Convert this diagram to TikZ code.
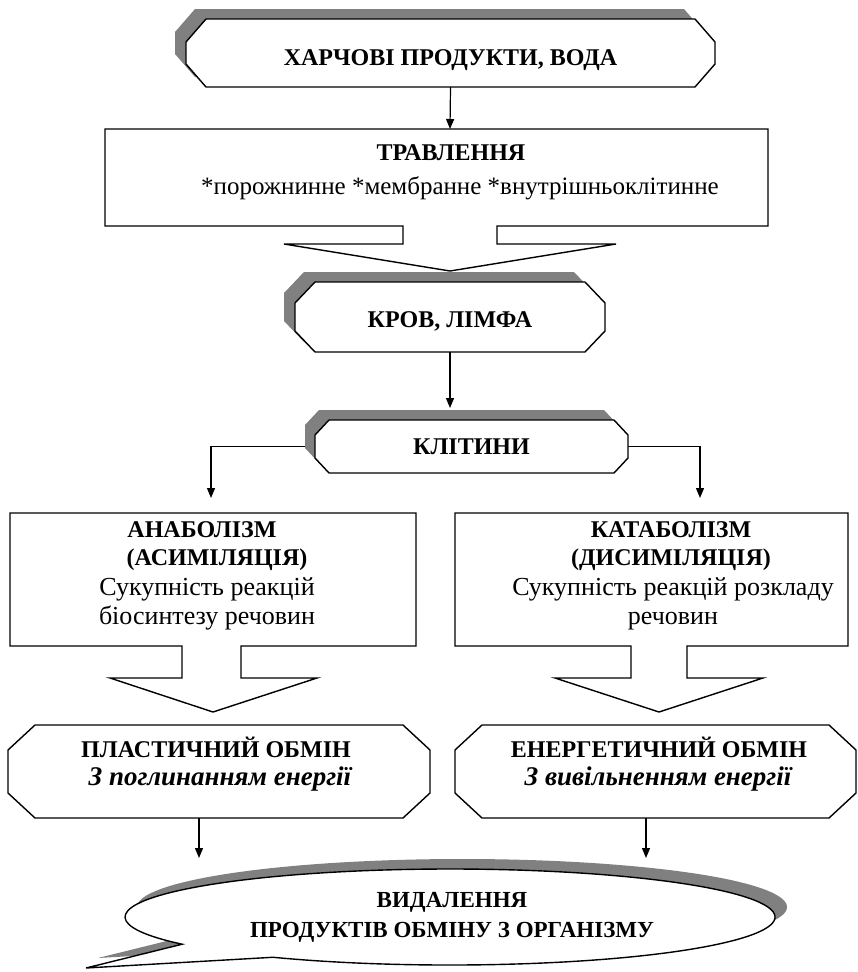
\documentclass[tikz,border=0pt]{standalone}
\usepackage{fontspec}
\setmainfont{Liberation Serif}
\usetikzlibrary{arrows.meta}
\definecolor{shadowgray}{HTML}{808080}

% octagon outline: #1 style, (#2,#3)-(#4,#5) bounding box, #6/#7 chamfer sizes
\newcommand\octpath[7]{%
  \path[#1] ({#2+#6},#3) -- ({#4-#6},#3) -- (#4,{#3+#7}) -- (#4,{#5-#7})
    -- ({#4-#6},#5) -- ({#2+#6},#5) -- (#2,{#5-#7}) -- (#2,{#3+#7}) -- cycle;}

\tikzset{
  outline/.style={draw=black, line width=1.4pt, fill=white, line join=miter},
  shadowfill/.style={fill=shadowgray, draw=none},
  conn/.style={draw=black, line width=1.2pt, -{Triangle[length=10pt,width=8pt]}},
  headlbl/.style={font=\fontsize{24}{28}\selectfont\bfseries, align=center, inner sep=0pt},
  bodylbl/.style={font=\fontsize{26}{29}\selectfont, align=center, inner sep=0pt},
  calloutlbl/.style={font=\fontsize{23}{30}\selectfont\bfseries, align=center, inner sep=0pt},
  italline/.style={font=\fontsize{27}{30}\selectfont\bfseries\itshape, inner sep=0pt},
}

\begin{document}
\begin{tikzpicture}[x=1pt, y=-1pt]
\useasboundingbox (0,0) rectangle (857,972);

% --- food and water
\octpath{shadowfill, shift={(-11,-10)}}{186}{19}{715}{87}{20}{23}
\octpath{outline}{186}{19}{715}{87}{20}{23}
\node[headlbl] (food) at (450.5,60) {ХАРЧОВІ ПРОДУКТИ, ВОДА};
\coordinate (foodBot) at (450,87);

% --- digestion box with block arrow
\path[outline] (105,129) -- (768,129) -- (768,226) -- (497,226) -- (497,244)
  -- (616,244) -- (450,271) -- (284,244) -- (403,244) -- (403,226) -- (105,226) -- cycle;
\node[headlbl] (digest) at (451,153) {ТРАВЛЕННЯ};
\node[font=\fontsize{25}{29}\selectfont, inner sep=0pt] (digestKinds) at (460,188)
  {*порожнинне *мембранне *внутрішньоклітинне};
\coordinate (digestTop) at (450,129);

% --- blood and lymph
\octpath{shadowfill, shift={(-11,-10)}}{295}{282}{605}{352}{20}{21}
\octpath{outline}{295}{282}{605}{352}{20}{21}
\node[headlbl] (blood) at (450,321) {КРОВ, ЛІМФА};
\coordinate (bloodBot) at (450,352);

% --- cells
\coordinate (cellsTop) at (450,408);
\coordinate (anaIn) at (211,498);
\coordinate (cataIn) at (700,498);
\node[minimum width=313pt, minimum height=53pt, inner sep=0pt] (cells) at (471.5,446.5) {};
\draw[conn] (cells.west) -| (anaIn);
\draw[conn] (cells.east) -| (cataIn);
\octpath{shadowfill, shift={(-10,-10)}}{315}{420}{628}{473}{14}{15}
\octpath{outline}{315}{420}{628}{473}{14}{15}
\node[headlbl] (cellsText) at (471.5,447) {КЛІТИНИ};

% --- anabolism
\path[outline] (10,513) -- (416,513) -- (416,646) -- (241,646) -- (241,678)
  -- (317,678) -- (213,712) -- (110,678) -- (182,678) -- (182,646) -- (10,646) -- cycle;
\node[headlbl] (anaHead) at (213,546)
  {АНАБОЛІЗМ\hspace*{22pt}\\\hspace*{8pt}(АСИМІЛЯЦІЯ)};
\node[bodylbl] (ana) at (207,604) {Сукупність реакцій\\біосинтезу речовин};

% --- catabolism
\path[outline] (455,513) -- (848,513) -- (848,646) -- (687,646) -- (687,678)
  -- (763,678) -- (659,712) -- (555,678) -- (631,678) -- (631,646) -- (455,646) -- cycle;
\node[headlbl] (cataHead) at (671,546) {КАТАБОЛІЗМ\\(ДИСИМІЛЯЦІЯ)};
\node[bodylbl] (cata) at (673,604) {Сукупність реакцій розкладу\\речовин};

% --- plastic and energy exchange
\octpath{outline}{8}{725}{430}{818}{27}{25}
\node[headlbl] (plast) at (216,747) {ПЛАСТИЧНИЙ ОБМІН};
\node[italline] (plastNote) at (220,779) {З поглинанням енергії};

\octpath{outline}{455}{725}{856}{818}{27}{25}
\node[headlbl] (energy) at (659,747) {ЕНЕРГЕТИЧНИЙ ОБМІН};
\node[italline] (energyNote) at (658,779) {З вивільненням енергії};
\coordinate (plastBot) at (199,818);
\coordinate (energyBot) at (646,818);

% --- removal callout
\path[shadowfill, shift={(12,-10)}] (273,957.26)
  arc[start angle=123, end angle=-214.5, x radius=325, y radius=48] -- (86,968) -- cycle;
\path[outline] (273,957.26)
  arc[start angle=123, end angle=-214.5, x radius=325, y radius=48] -- (86,968) -- cycle;
\node[calloutlbl] (removal) at (452,917) {ВИДАЛЕННЯ\\ПРОДУКТІВ ОБМІНУ З ОРГАНІЗМУ};
\coordinate (exitL) at (199,858);
\coordinate (exitR) at (646,858);

% --- connectors
\draw[conn] (food.south |- foodBot) -- (digestTop);
\draw[conn] (blood.south |- bloodBot) -- (cellsTop);
\draw[conn] (plastBot) -- (exitL);
\draw[conn] (energyBot) -- (exitR);
\end{tikzpicture}
\end{document}
